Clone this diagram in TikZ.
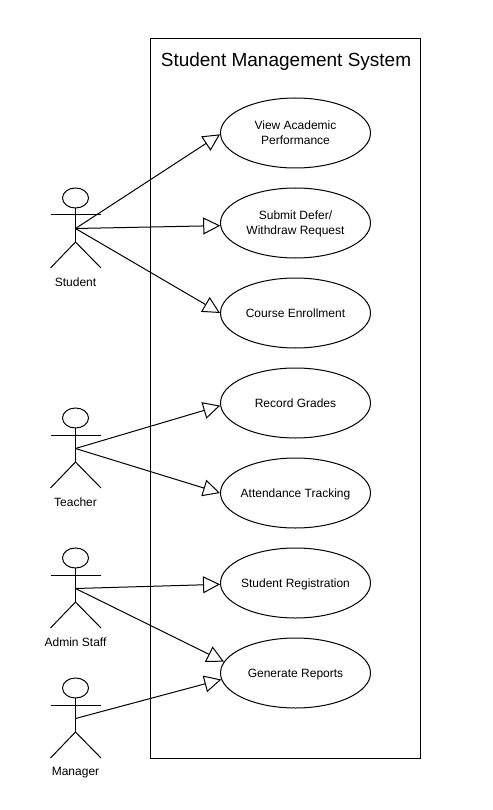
\documentclass[tikz,border=0pt]{standalone}
\usepackage{fontspec}
\setmainfont{Liberation Sans}
\usetikzlibrary{shapes.geometric,arrows.meta}
\newcommand{\uctext}[1]{\raisebox{-4pt}[0pt][0pt]{\makebox[0pt]{\begin{tabular}{@{}c@{}}#1\end{tabular}}}}
\tikzset{
  every picture/.style={x=1pt,y=-1pt},
  usecase/.style={draw=black,fill=white,ellipse,line width=1pt,minimum width=150pt,minimum height=70pt,inner sep=0pt,font=\fontsize{12}{15}\selectfont},
  actorlabel/.style={font=\fontsize{12}{15}\selectfont,inner sep=0pt,anchor=center},
  titletext/.style={font=\fontsize{19}{24}\selectfont,inner sep=0pt,anchor=center},
  frameline/.style={draw=black,line width=1pt},
  link/.style={draw=black,line width=1pt,-{Triangle[open,length=17pt,width=17pt,line width=1pt]}},
  pics/actor/.style={code={
    \draw[line width=1pt,fill=white] (0,-30.5) ellipse [x radius=13,y radius=10];
    \draw[line width=1pt] (-25,-13.5) -- (25.5,-13.5);
    \draw[line width=1pt] (0,-20.5) -- (0,13.5);
    \draw[line width=1pt] (-25,39.5) -- (0,13.5) -- (25.5,39.5);
    \coordinate (-hub) at (0,0);
  }}
}
\begin{document}
\begin{tikzpicture}
\useasboundingbox (0,0) rectangle (492,810);
\path[frameline] (150.5,38.5) rectangle (420.5,758.5);
\node[titletext] (title) at (286,61.5) {Student Management System};

\pic (student) at (75.5,228.5) {actor};
\pic (teacher) at (75.5,448.5) {actor};
\pic (admin) at (75.5,588.5) {actor};
\pic (manager) at (75.5,718.5) {actor};

\node[actorlabel] (studentlabel) at (75.5,282.5) {Student};
\node[actorlabel] (teacherlabel) at (75.5,502.5) {Teacher};
\node[actorlabel] (adminlabel) at (75.5,642.5) {Admin Staff};
\node[actorlabel] (managerlabel) at (75.5,772.5) {Manager};

\node[usecase] (view) at (295.5,133) {\uctext{View Academic\\Performance}};
\node[usecase] (defer) at (295.5,223) {\uctext{Submit Defer/\\Withdraw Request}};
\node[usecase] (enroll) at (295.5,313) {\uctext{Course Enrollment}};
\node[usecase] (grades) at (295.5,403) {\uctext{Record Grades}};
\node[usecase] (attend) at (295.5,493) {\uctext{Attendance Tracking}};
\node[usecase] (register) at (295.5,583) {\uctext{Student Registration}};
\node[usecase] (reports) at (295.5,673) {\uctext{Generate Reports}};

\draw[link] (student-hub) -- (view.181);
\draw[link] (student-hub) -- (defer.182);
\draw[link] (student-hub) -- (enroll.west);
\draw[link] (teacher-hub) -- (grades.182);
\draw[link] (teacher-hub) -- (attend.west);
\draw[link] (admin-hub) -- (register.181);
\draw[link] (admin-hub) -- (reports.171);
\draw[link] (manager-hub) -- (reports.185);
\end{tikzpicture}
\end{document}
